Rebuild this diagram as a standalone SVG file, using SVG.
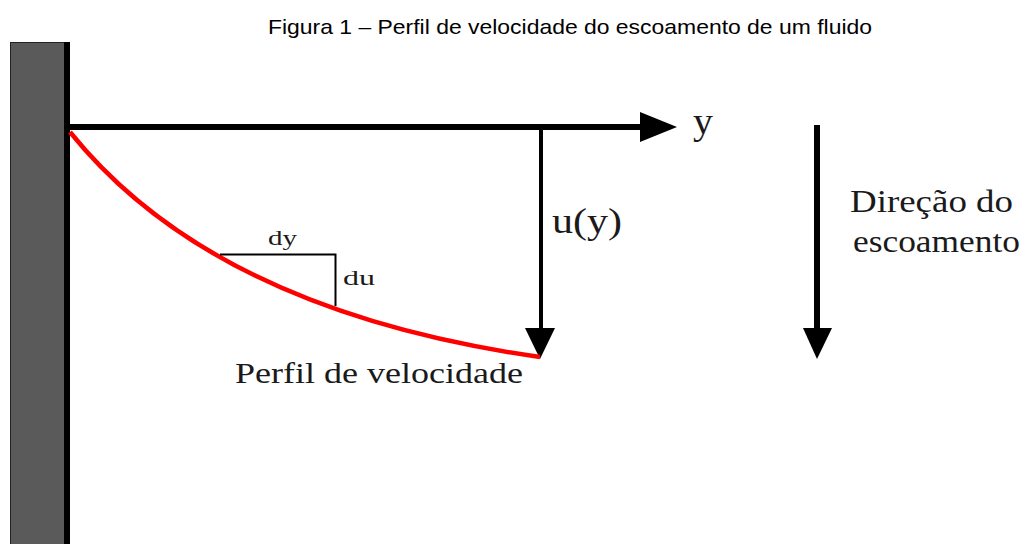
<svg xmlns="http://www.w3.org/2000/svg" width="1026" height="544" viewBox="0 0 1026 544">
<defs>
<style>
.serif{font-family:"Liberation Serif","Times New Roman",serif;fill:#1a1a1a}
.title{font-family:"Liberation Sans",Arial,sans-serif;font-size:21px;fill:#000}
.ax{stroke:#000;fill:none}
</style>
</defs>
<rect width="1026" height="544" fill="#fff"/>
<text class="title" x="268" y="34" textLength="604" lengthAdjust="spacingAndGlyphs">Figura 1 – Perfil de velocidade do escoamento de um fluido</text>
<g id="wall">
<rect x="10.5" y="42.5" width="55" height="510" fill="#5a5a5a" stroke="#222" stroke-width="1"/>
<rect x="64" y="42" width="6" height="510" fill="#000"/>
</g>
<g id="connectors">
<line class="ax" x1="70" y1="127" x2="641" y2="127" stroke-width="6"/>
<path d="M640,112 L677,127 L640,142 Z" fill="#000"/>
<line class="ax" x1="541" y1="127" x2="541" y2="330" stroke-width="4"/>
<path d="M525,328 L555,328 L540,359 Z" fill="#000"/>
<line class="ax" x1="817" y1="125" x2="817" y2="330" stroke-width="6"/>
<path d="M803,328 L832,328 L817,359 Z" fill="#000"/>
<path d="M70,132 Q214,311 540,357" fill="none" stroke="#ff0000" stroke-width="4.5"/>
<polyline class="ax" points="220,254.5 335.5,254.5 335.5,306" stroke-width="2"/>
</g>
<g id="labels">
<text class="serif" x="693" y="134" font-size="38" textLength="20" lengthAdjust="spacingAndGlyphs">y</text>
<text class="serif" x="552" y="233" font-size="36" textLength="70" lengthAdjust="spacingAndGlyphs">u(y)</text>
<text class="serif" x="268" y="245" font-size="22" textLength="29" lengthAdjust="spacingAndGlyphs">dy</text>
<text class="serif" x="343" y="285" font-size="22" textLength="32" lengthAdjust="spacingAndGlyphs">du</text>
<text class="serif" x="235" y="383" font-size="30" textLength="288" lengthAdjust="spacingAndGlyphs">Perfil de velocidade</text>
<text class="serif" x="850" y="212" font-size="32" textLength="163" lengthAdjust="spacingAndGlyphs">Direção do</text>
<text class="serif" x="853" y="252" font-size="32" textLength="167" lengthAdjust="spacingAndGlyphs">escoamento</text>
</g>
</svg>
